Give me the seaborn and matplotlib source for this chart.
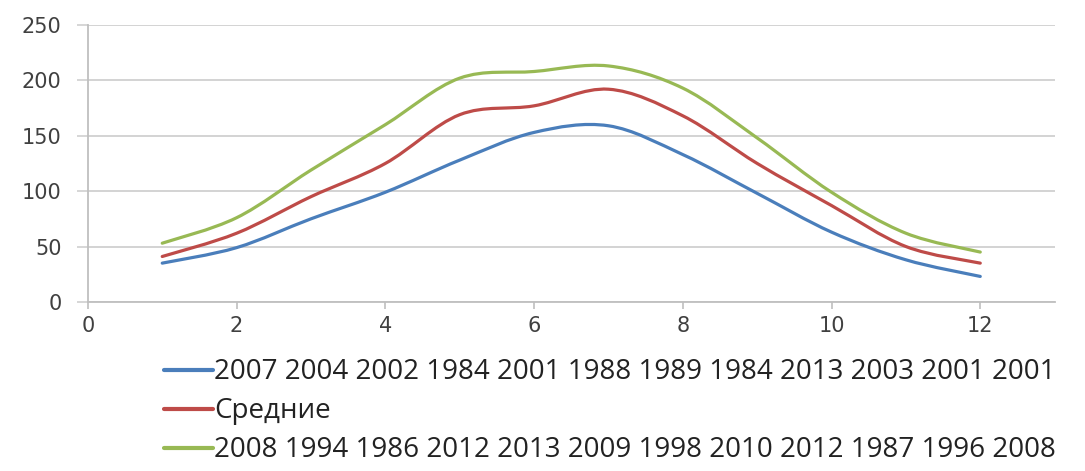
import numpy as np
import pandas as pd
import matplotlib
matplotlib.use('Agg')
import matplotlib.pyplot as plt
from matplotlib.path import Path
from matplotlib.patches import PathPatch
import seaborn as sns

months = [1, 2, 3, 4, 5, 6, 7, 8, 9, 10, 11, 12]
low_vals = [35, 49, 75, 99, 128, 153, 159, 133, 98, 63, 38, 23]
mean_vals = [41, 62, 95, 125, 169, 177, 192, 168, 125, 87, 50, 35]
high_vals = [53, 76, 119, 160, 202, 208, 213, 193, 148, 99, 62, 45]

low_label = "2007 2004 2002 1984 2001 1988 1989 1984 2013 2003 2001 2001"
mean_label = "Средние"
high_label = "2008 1994 1986 2012 2013 2009 1998 2010 2012 1987 1996 2008"

colors = ['#4a7ebb', '#be4b48', '#98b954']

sns.set_theme(style='white')
plt.rcParams['font.family'] = ['DejaVu Sans']

df = pd.DataFrame({
    'x': months * 3,
    'y': low_vals + mean_vals + high_vals,
    'series': [low_label] * 12 + [mean_label] * 12 + [high_label] * 12,
})


def smooth_path(xs, ys, k=1 / 6):
    # bezier path through the points, like Excel's smoothed line
    pts = np.column_stack([xs, ys]).astype(float)
    n = len(pts)
    verts = [pts[0]]
    codes = [Path.MOVETO]
    for i in range(n - 1):
        p0 = pts[i - 1] if i > 0 else pts[i]
        p1 = pts[i]
        p2 = pts[i + 1]
        p3 = pts[i + 2] if i + 2 < n else pts[i + 1]
        c1 = p1 + (p2 - p0) * k
        c2 = p2 - (p3 - p1) * k
        verts += [c1, c2, p2]
        codes += [Path.CURVE4] * 3
    return Path(verts, codes)


fig = plt.figure(figsize=(10.85, 4.71), dpi=100)
ax = fig.add_axes([0.081, 0.359, 0.891, 0.588])

sns.lineplot(data=df, x='x', y='y', hue='series', palette=colors,
             linewidth=2.3, ax=ax, legend=True)

handles, labels = ax.get_legend_handles_labels()
ax.get_legend().remove()
leg = fig.legend(handles, labels, loc='upper left', bbox_to_anchor=(0.141, 0.263),
                 frameon=False, handlelength=1.75, handletextpad=0.05,
                 labelspacing=0.4, borderaxespad=0,
                 prop={'family': 'Open Sans', 'size': 20})
for h in leg.get_lines():
    h.set_linewidth(3)
for t in leg.get_texts():
    t.set_color('#222222')

# replace straight segments with smoothed curves
for line in ax.get_lines():
    xs, ys = line.get_xdata(), line.get_ydata()
    if len(xs) < 2:
        continue
    patch = PathPatch(smooth_path(xs, ys), facecolor='none',
                      edgecolor=line.get_color(), linewidth=2.3,
                      capstyle='round', joinstyle='round')
    ax.add_patch(patch)
    line.set_visible(False)

ax.set_xlim(0, 13)
ax.set_ylim(0, 250)
ax.set_xticks([0, 2, 4, 6, 8, 10, 12])
ax.set_yticks([0, 50, 100, 150, 200, 250])
ax.set_xlabel('')
ax.set_ylabel('')
ax.grid(axis='y', color='#d0d0d0', linewidth=1.3)
ax.set_axisbelow(True)
for side in ['top', 'right']:
    ax.spines[side].set_visible(False)
for side in ['left', 'bottom']:
    ax.spines[side].set_color('#bfbfbf')
    ax.spines[side].set_linewidth(1.3)
ax.tick_params(axis='x', direction='out', length=5, width=1.2, color='#bfbfbf',
               labelsize=15, labelcolor='#404040', pad=5, bottom=True)
ax.tick_params(axis='y', direction='out', length=8, width=1.2, color='#d0d0d0',
               labelsize=15, labelcolor='#404040', pad=11, left=True)

fig.savefig('out.png', dpi=100)
